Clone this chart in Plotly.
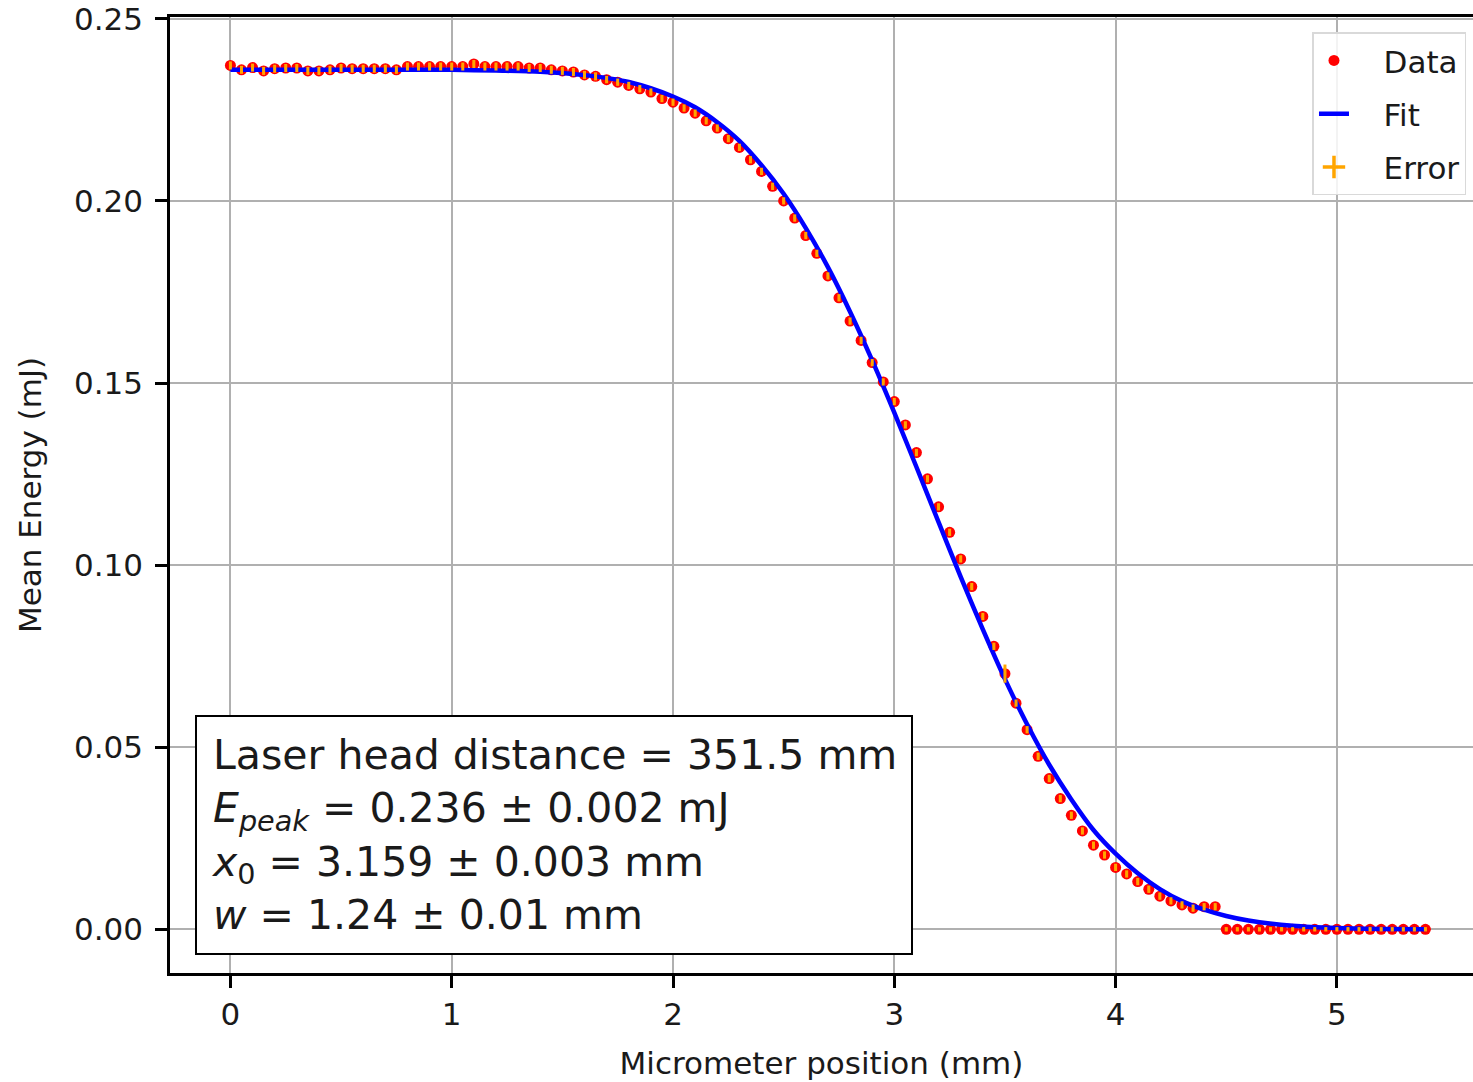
import plotly.graph_objects as go

# ---------------- data ----------------
data_x = [0.00, 0.05, 0.10, 0.15, 0.20, 0.25, 0.30, 0.35, 0.40, 0.45,
          0.50, 0.55, 0.60, 0.65, 0.70, 0.75, 0.80, 0.85, 0.90, 0.95,
          1.00, 1.05, 1.10, 1.15, 1.20, 1.25, 1.30, 1.35, 1.40, 1.45,
          1.50, 1.55, 1.60, 1.65, 1.70, 1.75, 1.80, 1.85, 1.90, 1.95,
          2.00, 2.05, 2.10, 2.15, 2.20, 2.25, 2.30, 2.35, 2.40, 2.45,
          2.50, 2.55, 2.60, 2.65, 2.70, 2.75, 2.80, 2.85, 2.90, 2.95,
          3.00, 3.05, 3.10, 3.15, 3.20, 3.25, 3.30, 3.35, 3.40, 3.45,
          3.50, 3.55, 3.60, 3.65, 3.70, 3.75, 3.80, 3.85, 3.90, 3.95,
          4.00, 4.05, 4.10, 4.15, 4.20, 4.25, 4.30, 4.35, 4.40, 4.45,
          4.50, 4.55, 4.60, 4.65, 4.70, 4.75, 4.80, 4.85, 4.90, 4.95,
          5.00, 5.05, 5.10, 5.15, 5.20, 5.25, 5.30, 5.35, 5.40]

data_y = [0.2372, 0.2360, 0.2366, 0.2357, 0.2363, 0.2365, 0.2365, 0.2357, 0.2357, 0.2360,
          0.2365, 0.2363, 0.2363, 0.2363, 0.2363, 0.2360, 0.2369, 0.2369, 0.2369, 0.2369,
          0.2369, 0.2369, 0.2376, 0.2369, 0.2369, 0.2369, 0.2369, 0.2365, 0.2365, 0.2360,
          0.2357, 0.2354, 0.2346, 0.2342, 0.2333, 0.2326, 0.2317, 0.2308, 0.2299, 0.2281,
          0.2271, 0.2255, 0.2241, 0.2220, 0.2200, 0.2171, 0.2147, 0.2113, 0.2081, 0.2040,
          0.2000, 0.1953, 0.1905, 0.1856, 0.1794, 0.1734, 0.1670, 0.1617, 0.1556, 0.1503,
          0.1449, 0.1385, 0.1309, 0.1237, 0.1160, 0.1090, 0.1017, 0.0941, 0.0859, 0.0777,
          0.0702, 0.0621, 0.0548, 0.0475, 0.0414, 0.0359, 0.0313, 0.0270, 0.0231, 0.0204,
          0.0170, 0.0152, 0.0131, 0.0110, 0.0091, 0.0078, 0.0067, 0.0058, 0.0062, 0.0062,
          0.0000, 0.0000, 0.0000, 0.0000, 0.0000, 0.0000, 0.0000, 0.0000, 0.0000, 0.0000,
          0.0000, 0.0000, 0.0000, 0.0000, 0.0000, 0.0000, 0.0000, 0.0000, 0.0000]

data_err = [0.0011, 0.0011, 0.0011, 0.0011, 0.0011, 0.0011, 0.0011, 0.0011, 0.0011, 0.0011,
            0.0011, 0.0011, 0.0011, 0.0011, 0.0011, 0.0011, 0.0011, 0.0011, 0.0011, 0.0011,
            0.0011, 0.0011, 0.0011, 0.0011, 0.0011, 0.0011, 0.0011, 0.0011, 0.0011, 0.0011,
            0.0011, 0.0011, 0.0011, 0.0011, 0.0010, 0.0010, 0.0010, 0.0010, 0.0010, 0.0010,
            0.0010, 0.0010, 0.0010, 0.0010, 0.0010, 0.0010, 0.0010, 0.0010, 0.0010, 0.0010,
            0.0010, 0.0010, 0.0010, 0.0010, 0.0010, 0.0010, 0.0010, 0.0010, 0.0010, 0.0010,
            0.0010, 0.0010, 0.0010, 0.0010, 0.0010, 0.0010, 0.0010, 0.0010, 0.0010, 0.0010,
            0.0025, 0.0010, 0.0010, 0.0010, 0.0010, 0.0010, 0.0010, 0.0010, 0.0010, 0.0010,
            0.0010, 0.0010, 0.0010, 0.0010, 0.0010, 0.0010, 0.0010, 0.0010, 0.0010, 0.0010,
            0.0006, 0.0006, 0.0006, 0.0006, 0.0006, 0.0006, 0.0006, 0.0006, 0.0006, 0.0006,
            0.0006, 0.0006, 0.0006, 0.0006, 0.0006, 0.0006, 0.0006, 0.0006, 0.0006]

x_err = 0.005

fit_x = [0.0, 0.2, 0.4, 0.6, 0.8, 1.0, 1.2, 1.4, 1.6, 1.8,
         2.0, 2.1, 2.2, 2.3, 2.4, 2.5, 2.6, 2.7, 2.8, 2.9,
         3.0, 3.1, 3.2, 3.3, 3.4, 3.5, 3.6, 3.7, 3.8, 3.9,
         4.0, 4.1, 4.2, 4.3, 4.4, 4.5, 4.6, 4.8, 5.0, 5.2, 5.4]
fit_y = [0.2360, 0.2360, 0.2360, 0.2360, 0.2360, 0.2360, 0.23578, 0.23547, 0.23454, 0.23265,
         0.22868, 0.22571, 0.22160, 0.21648, 0.20980, 0.20196, 0.19253, 0.18181, 0.16958, 0.15621,
         0.14185, 0.12694, 0.11178, 0.09678, 0.08236, 0.06870, 0.05629, 0.04518, 0.03566, 0.02727,
         0.02077, 0.01538, 0.01104, 0.00774, 0.00538, 0.00366, 0.00241, 0.00098, 0.00035, 0.00010, 0.00003]

x_ticks = [0, 1, 2, 3, 4, 5]
y_ticks = [0.00, 0.05, 0.10, 0.15, 0.20, 0.25]

info_lines = [
    "Laser head distance = 351.5 mm",
    "<i>E</i><sub><i>peak</i></sub> = 0.236 ± 0.002 mJ",
    "<i>x</i><sub>0</sub> = 3.159 ± 0.003 mm",
    "<i>w</i> = 1.24 ± 0.01 mm",
]

FONT = "DejaVu Sans"
TXT = "#1a1a1a"
RED = "#ff0000"
BLUE = "#0000ff"
ORANGE = "#ffa500"
PAD = "\u00a0\u00a0\u00a0"

fig = go.Figure()

fig.add_trace(go.Scatter(
    x=data_x, y=data_y, mode="markers", name=PAD + "Data", legendgroup="a",
    marker=dict(color=RED, size=11, line=dict(width=0)),
))
fig.add_trace(go.Scatter(
    x=fit_x, y=fit_y, mode="lines", name=PAD + "Fit", legendgroup="b",
    line=dict(color=BLUE, width=4.5, shape="spline", smoothing=0.8),
))
fig.add_trace(go.Scatter(
    x=data_x, y=data_y, mode="markers", name="Error", showlegend=False,
    marker=dict(color="rgba(0,0,0,0)", size=1),
    error_y=dict(type="data", array=data_err, visible=True, color=ORANGE, thickness=3, width=0),
    error_x=dict(type="constant", value=x_err, visible=True, color=ORANGE, thickness=3, width=0),
    hoverinfo="skip",
))
# legend entry for the error bars
fig.add_trace(go.Scatter(
    x=[None], y=[None], mode="markers", name=PAD + "Error", legendgroup="c",
    marker=dict(symbol="cross-thin", size=16, color=ORANGE, line=dict(color=ORANGE, width=3.5)),
))

fig.add_annotation(
    xref="paper", yref="paper", x=0.019, y=0.019, xanchor="left", yanchor="bottom",
    text="<br>".join(info_lines), align="left", showarrow=False,
    font=dict(family=FONT, size=41, color=TXT),
    bgcolor="white", bordercolor="black", borderwidth=2, borderpad=14,
)

fig.update_layout(
    width=1473, height=1082,
    margin=dict(l=170, r=0, t=17, b=109),
    paper_bgcolor="white", plot_bgcolor="white",
    font=dict(family=FONT, size=31, color=TXT),
    showlegend=True,
    legend=dict(
        x=0.995, y=0.984, xanchor="right", yanchor="top",
        bgcolor="rgba(255,255,255,0.85)", bordercolor="#d9d9d9", borderwidth=1.5,
        font=dict(family=FONT, size=31, color=TXT),
        itemsizing="trace", tracegroupgap=10,
    ),
)

fig.update_xaxes(
    range=[-0.273, 5.615],
    tickvals=x_ticks, ticktext=[str(v) for v in x_ticks],
    showgrid=True, gridcolor="#b0b0b0", gridwidth=2,
    showline=True, linecolor="black", linewidth=2.5, mirror=True,
    ticks="outside", ticklen=12, tickwidth=2.5, tickcolor="black",
    zeroline=False,
    title=dict(text="Micrometer position (mm)", standoff=22, font=dict(family=FONT, size=31)),
)
fig.update_yaxes(
    range=[-0.012, 0.2505],
    tickvals=y_ticks, ticktext=["%.2f" % v for v in y_ticks],
    showgrid=True, gridcolor="#b0b0b0", gridwidth=2,
    showline=True, linecolor="black", linewidth=2.5, mirror=False,
    ticks="outside", ticklen=12, tickwidth=2.5, tickcolor="black",
    ticklabelstandoff=6,
    zeroline=False,
    title=dict(text="Mean Energy (mJ)", standoff=24, font=dict(family=FONT, size=31)),
)

fig.write_html("out.html")
